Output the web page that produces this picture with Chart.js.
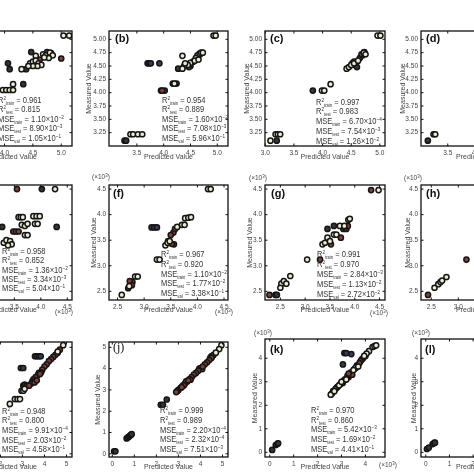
<!DOCTYPE html>
<html><head><meta charset="utf-8">
<script src="https://cdn.jsdelivr.net/npm/chart.js@4.4.1/dist/chart.umd.min.js"></script>
<style>
html,body{margin:0;padding:0;background:#fff;}
#root{position:relative;width:474px;height:474px;overflow:hidden;background:#fff;font-family:"Liberation Sans",Arial,sans-serif;}
canvas{position:absolute;}
.t{position:absolute;white-space:nowrap;}
.stat{font-size:9.2px;color:#333;line-height:10px;transform:scaleX(0.82);transform-origin:0 50%;}
.stat sub{font-size:0.55em;vertical-align:-0.3em;line-height:0;}
.stat sup{font-size:0.62em;vertical-align:0.5em;line-height:0;}
.lab{font-size:11px;font-weight:bold;color:#111;line-height:12px;}
.labs{font-family:"Liberation Serif",serif;font-weight:normal;font-size:12px;}
.mul{font-size:6.5px;color:#444;line-height:8px;}
.mul sup{font-size:0.7em;vertical-align:0.5em;line-height:0;}
</style></head><body><div id="root"></div>
<script>
// ---------- tick labels ----------
const row1YLabels = ["3.25","3.50","3.75","4.00","4.25","4.50","4.75","5.00"];
const aXLabels = ["3.5","4.0","4.5","5.0"];
const bXLabels = ["3.5","4.0","4.5","5.0"];
const cXLabels = ["3.0","3.5","4.0","4.5","5.0"];
const dXLabels = ["3.5","4.0","4.5","5.0"];
const row2Labels = ["2.5","3.0","3.5","4.0","4.5"];
const ijLabels = ["0","1","2","3","4","5"];
const klLabels = ["0","1","2","3","4"];

// ---------- point data [predicted, measured] ----------
const aLight = [[5.04,5.07],[5.14,5.07],[4.55,4.69],[4.68,4.72],[4.73,4.7],[4.8,4.75],[4.85,4.7],[4.78,4.65],[4.7,4.66],[4.45,4.55],[4.5,4.58],[4.55,4.6],[4.6,4.55],[4.65,4.52],[4.58,4.5],[4.5,4.5],[4.42,4.5],[4.3,4.44],[4.15,4.16],[3.97,4.05],[4.03,4.05],[4.09,4.05],[4.15,4.05]];
const aRed = [[5.0,4.64],[4.75,4.76],[4.82,4.74],[4.62,4.62],[4.48,4.52]];
const aDark = [[4.06,4.55],[4.09,4.44],[4.38,4.44],[4.33,4.16],[4.47,4.76]];

const bLight = [[4.93,5.07],[4.97,5.07],[4.35,4.69],[4.63,4.7],[4.67,4.73],[4.7,4.75],[4.73,4.75],[4.6,4.65],[4.55,4.58],[4.5,4.56],[4.45,4.52],[4.38,4.5],[4.35,4.45],[4.4,4.55],[4.58,4.6],[4.65,4.62],[4.2,4.17],[3.38,3.22],[3.43,3.22],[3.52,3.22],[3.6,3.22]];
const bRed = [[4.68,4.72],[4.5,4.5],[4.47,4.48],[3.97,4.04]];
const bDark = [[4.27,4.45],[4.24,4.17],[4.17,4.17],[3.95,4.04],[4.02,4.04],[3.27,3.1],[3.3,3.1]];
const bNavy = [[3.7,4.55],[3.73,4.55],[3.76,4.55],[3.92,4.55]];

const cLight = [[4.96,5.07],[5.01,5.07],[4.42,4.45],[4.46,4.48],[4.5,4.52],[4.55,4.55],[4.62,4.6],[4.72,4.75],[4.75,4.72],[3.99,4.04],[4.03,4.04],[4.14,4.16],[3.18,3.22],[3.22,3.22],[3.26,3.22],[3.09,3.1]];
const cRed = [[4.65,4.65],[4.7,4.7],[4.73,4.76],[4.68,4.72]];
const cDark = [[4.52,4.55],[4.57,4.52],[4.6,4.48],[4.55,4.58],[3.83,4.04],[3.2,3.1]];

const dLight = [[3.25,3.22],[3.28,3.22]];
const dDark = [[3.15,3.1]];

const eLight = [[4.27,4.5],[3.58,3.95],[3.62,3.95],[3.66,3.95],[3.86,3.97],[3.92,3.97],[3.98,3.97],[3.89,3.82],[3.94,3.82],[3.64,3.8],[3.7,3.78],[3.75,3.82],[3.7,3.6],[3.75,3.6],[3.3,3.45],[3.35,3.5],[3.42,3.48],[3.45,3.42],[3.38,3.4]];
const eRed = [[3.55,4.5],[3.48,3.67],[3.53,3.67],[3.58,3.67],[3.4,3.45]];
const eDark = [[4.02,4.5],[3.27,3.76],[4.3,3.76]];

const fLight = [[4.2,4.5],[4.25,4.5],[3.77,3.93],[3.83,3.94],[3.88,3.95],[3.71,3.8],[3.76,3.8],[3.62,3.76],[3.4,3.4],[3.44,3.45],[3.48,3.48],[3.24,3.12],[3.29,3.12],[2.83,2.79],[2.88,2.79],[2.72,2.6],[2.58,2.43]];
const fRed = [[3.55,3.65],[3.5,3.6],[3.58,3.72],[3.52,3.43],[3.45,3.48],[2.75,2.65],[2.78,2.68],[2.73,2.7],[2.77,2.62]];
const fDark = [[3.56,3.42],[2.7,2.56]];
const fNavy = [[3.14,3.75],[3.19,3.75],[3.24,3.75]];

const gLight = [[4.48,4.48],[3.87,3.9],[3.9,3.92],[3.7,3.78],[3.79,3.78],[3.58,3.61],[3.63,3.61],[3.45,3.55],[3.35,3.42],[3.4,3.45],[3.5,3.48],[3.04,3.12],[2.7,2.8],[2.52,2.65],[2.57,2.7],[2.62,2.65],[2.5,2.57]];
const gRed = [[4.33,4.48],[3.86,3.78],[3.72,3.55],[3.3,3.12],[3.52,3.42],[2.28,2.43]];
const gDark = [[3.45,3.72],[3.58,3.78],[3.77,3.72],[3.83,3.72],[2.4,2.43],[2.43,2.43]];

const hLight = [[2.56,2.57],[2.63,2.64],[2.67,2.68],[2.7,2.71],[2.78,2.78]];
const hRed = [[2.44,2.43],[3.15,3.12]];

const iLight = [[4.85,5.1],[4.6,4.8],[2.96,2.96],[3.04,2.96],[2.66,2.57],[2.78,2.57],[2.89,2.57],[2.43,2.34],[3.1,3.05]];
const iRed = [[4.7,4.89],[4.6,4.75],[4.5,4.65],[4.4,4.55],[4.3,4.45],[4.2,4.35],[4.1,4.2],[4.0,4.1],[3.9,3.95],[3.85,3.83],[3.75,3.8],[3.7,3.7],[3.6,3.6],[3.5,3.5],[3.45,3.4],[3.4,3.3],[3.55,3.35],[3.65,3.45],[3.8,3.75],[3.3,3.2]];
const iDark = [[3.04,3.2],[3.1,3.25],[3.19,3.2]];
const iNavy = [[3.57,4.58],[3.66,4.58],[3.75,4.58],[3.83,4.58],[2.93,4.03],[3.04,4.03]];

const jLight = [[4.95,5.1],[4.85,4.92],[4.7,4.75]];
const jRed = [[4.6,4.65],[4.5,4.5],[4.4,4.4],[4.3,4.3],[4.2,4.2],[4.1,4.1],[3.9,3.9],[3.8,3.8],[3.7,3.72],[3.6,3.6],[3.5,3.5],[3.4,3.4],[3.3,3.3],[3.2,3.2],[3.1,3.1],[3.0,3.0],[2.95,2.95],[2.9,2.9],[3.55,3.48],[3.35,3.4],[3.45,3.45],[3.25,3.22],[3.15,3.13]];
const jDark = [[2.2,2.3],[2.3,2.3],[2.47,2.55],[0.65,0.72],[0.72,0.78],[0.78,0.83],[0.83,0.88],[0.88,0.92],[0.08,0.12],[0.14,0.12]];
const jNavy = [[4.45,4.52],[4.5,4.58],[4.55,4.6],[3.95,4.0],[4.02,4.02],[4.08,3.98]];

const kLight = [[4.3,4.48],[4.38,4.52],[4.45,4.55],[4.15,4.3],[4.05,4.2],[3.95,4.1],[3.6,3.6],[3.7,3.65],[3.5,3.5],[2.55,2.45],[2.7,2.6],[2.9,2.85],[3.0,3.0],[3.2,3.1]];
const kRed = [[3.9,4.0],[3.85,3.95],[3.8,3.88],[3.75,3.8],[3.4,3.4],[3.35,3.3],[3.3,3.2],[3.25,3.25],[3.15,3.1],[3.1,3.05],[2.95,2.9],[2.8,2.75],[2.75,2.7],[2.65,2.6],[3.45,3.3],[3.3,3.35]];
const kDark = [[4.0,4.1],[3.65,3.7],[3.55,3.55],[3.05,2.95],[2.85,2.8],[2.6,2.5],[0.1,0.1],[0.25,0.31],[0.32,0.36],[0.35,0.38]];
const kNavy = [[3.12,4.22],[3.2,4.22],[3.41,4.18],[3.06,3.74]];

const lDark = [[0.05,0.14],[0.13,0.2],[0.29,0.35],[0.36,0.4],[0.39,0.41]];

// ---------- statistics text [R2train, R2test], [[MSE mantissa, exponent] x3] ----------
const aR2 = ["0.961","0.815"]; const aMSE = [["1.10","−2"],["8.90","−3"],["1.05","−1"]];
const bR2 = ["0.954","0.889"]; const bMSE = [["1.60","−2"],["7.08","−3"],["5.96","−1"]];
const cR2 = ["0.997","0.983"]; const cMSE = [["6.70","−4"],["7.54","−3"],["1.26","−2"]];
const eR2 = ["0.958","0.852"]; const eMSE = [["1.36","−2"],["3.34","−3"],["5.04","−1"]];
const fR2 = ["0.967","0.920"]; const fMSE = [["1.10","−2"],["1.77","−2"],["3.38","−1"]];
const gR2 = ["0.991","0.970"]; const gMSE = [["2.84","−3"],["1.13","−2"],["2.72","−2"]];
const iR2 = ["0.948","0.800"]; const iMSE = [["9.91","−4"],["2.03","−2"],["4.58","−1"]];
const jR2 = ["0.999","0.989"]; const jMSE = [["2.20","−4"],["2.32","−4"],["7.51","−3"]];
const kR2 = ["0.970","0.860"]; const kMSE = [["5.42","−3"],["1.69","−2"],["4.41","−1"]];

// ---------- drawing ----------
const FONT = '"Liberation Sans", Arial, sans-serif';
const FILL = {light:'#ecebd2', red:'#80403a', dark:'#3a3434', navy:'#353c58'};
const root = document.getElementById('root');

const boxPlugin = {
  id:'box',
  afterDraw(chart){
    const {ctx, chartArea:a, scales:{x,y}} = chart;
    ctx.save();
    ctx.strokeStyle = '#111';
    ctx.lineWidth = 1.3;
    ctx.strokeRect(a.left, a.top, a.right-a.left, a.bottom-a.top);
    ctx.lineWidth = 1;
    ctx.beginPath();
    x.ticks.forEach(t=>{const p=x.getPixelForValue(t.value);
      ctx.moveTo(p,a.bottom); ctx.lineTo(p,a.bottom-2.5);
      ctx.moveTo(p,a.top); ctx.lineTo(p,a.top+2.5);});
    y.ticks.forEach(t=>{const p=y.getPixelForValue(t.value);
      ctx.moveTo(a.left,p); ctx.lineTo(a.left+2.5,p);
      ctx.moveTo(a.right,p); ctx.lineTo(a.right-2.5,p);});
    ctx.stroke();
    ctx.restore();
  }
};

function addText(cls, html, left, cy, h){
  const d = document.createElement('div');
  d.className = 't ' + cls;
  d.innerHTML = html;
  d.style.left = left + 'px';
  d.style.top = (cy - h/2) + 'px';
  root.appendChild(d);
}

function makePanel(p){
  const left = Math.round(p.ylabX - 4.2);
  const top = p.T - 10;
  const right = p.R + 6;
  const bottom = Math.round(p.xlabY + 4.2);
  const W = right - left, H = bottom - top;
  const cv = document.createElement('canvas');
  cv.width = W; cv.height = H;
  cv.style.left = left + 'px'; cv.style.top = top + 'px';
  cv.style.width = W + 'px'; cv.style.height = H + 'px';
  root.appendChild(cv);
  const xv = p.xt.map(parseFloat), yv = p.yt.map(parseFloat);
  const datasets = Object.entries(p.data).map(([k, pts]) => ({
    data: pts.map(([x,y]) => ({x, y})),
    backgroundColor: FILL[k], borderColor: '#151515', borderWidth: 1.5,
    pointRadius: 2.6, pointHoverRadius: 2.6
  }));
  const tickFont = {size: 6.5, family: FONT};
  const titleFont = {size: 7, family: FONT};
  new Chart(cv, {
    type: 'scatter',
    data: {datasets},
    options: {
      responsive: false, animation: false, devicePixelRatio: 1,
      layout: {padding: {left: 0, top: 10, right: 6, bottom: 0}, autoPadding: false},
      plugins: {legend: {display: false}, tooltip: {enabled: false}},
      scales: {
        x: {type: 'linear', position: 'bottom', min: p.x[0], max: p.x[1],
            grid: {display: false, drawTicks: false}, border: {display: false},
            ticks: {autoSkip: false, maxRotation: 0, padding: 3, color: '#444', font: tickFont,
                    callback: (v, i) => p.xt[i]},
            title: {display: true, text: 'Predicted Value', color: '#444', font: titleFont, padding: 0},
            afterBuildTicks: s => { s.ticks = xv.map(v => ({value: v})); },
            afterFit: s => { s.height = bottom - p.B; s.paddingLeft = 0; s.paddingRight = 0; }},
        y: {type: 'linear', position: 'left', min: p.y[0], max: p.y[1],
            grid: {display: false, drawTicks: false}, border: {display: false},
            ticks: {autoSkip: false, padding: 3, color: '#444', font: tickFont,
                    callback: (v, i) => p.yt[i]},
            title: {display: true, text: 'Measured Value', color: '#444', font: titleFont, padding: 0},
            afterBuildTicks: s => { s.ticks = yv.map(v => ({value: v})); },
            afterFit: s => { s.width = p.L - left; s.paddingTop = 0; s.paddingBottom = 0; }}
      }
    },
    plugins: [boxPlugin]
  });
  if (p.r2) {
    const lines = [
      'R<sup>2</sup><sub>train</sub> = ' + p.r2[0],
      'R<sup>2</sup><sub>test</sub> = ' + p.r2[1],
      'MSE<sub>train</sub> = ' + p.mse[0][0] + '×10<sup>' + p.mse[0][1] + '</sup>',
      'MSE<sub>test</sub> = ' + p.mse[1][0] + '×10<sup>' + p.mse[1][1] + '</sup>',
      'MSE<sub>val</sub> = ' + p.mse[2][0] + '×10<sup>' + p.mse[2][1] + '</sup>'
    ];
    lines.forEach((s, i) => addText('stat', s, p.sx, p.sy + i * p.sdy, 10));
  }
  if (p.lab) addText('lab' + (p.serif ? ' labs' : ''), p.lab[0], p.lab[1], p.lab[2], 12);
  if (p.mulTop) addText('mul', '(×10<sup>3</sup>)', p.mulTop[0], p.mulTop[1], 8);
  if (p.mulBot) addText('mul', '(×10<sup>3</sup>)', p.mulBot[0], p.mulBot[1], 8);
}

const panels = [
  {L:-47,R:72,T:31,B:146,ylabX:-66.7,xlabY:156.7,x:[3.09,5.19],y:[3.0,5.156],xt:aXLabels,yt:row1YLabels,
   data:{light:aLight,red:aRed,dark:aDark},r2:aR2,mse:aMSE,sx:-2,sy:100,sdy:9.4,lab:['(a)',-41,38]},
  {L:109,R:228,T:31,B:146,ylabX:89.3,xlabY:156.7,x:[2.98,5.2],y:[3.0,5.156],xt:bXLabels,yt:row1YLabels,
   data:{light:bLight,red:bRed,dark:bDark,navy:bNavy},r2:bR2,mse:bMSE,sx:161.7,sy:100,sdy:9.4,lab:['(b)',115,38.3]},
  {L:265,R:385,T:31,B:146,ylabX:247,xlabY:156.7,x:[2.995,5.09],y:[3.0,5.156],xt:cXLabels,yt:row1YLabels,
   data:{light:cLight,red:cRed,dark:cDark},r2:cR2,mse:cMSE,sx:316,sy:101.7,sdy:9.75,lab:['(c)',270,38]},
  {L:421,R:540,T:31,B:146,ylabX:403,xlabY:156.7,x:[3.03,5.12],y:[3.0,5.156],xt:dXLabels,yt:row1YLabels,
   data:{light:dLight,dark:dDark},lab:['(d)',426,38]},

  {L:-47,R:72,T:185,B:300,ylabX:-61.7,xlabY:310,x:[2.34,4.59],y:[2.33,4.58],xt:row2Labels,yt:row2Labels,
   data:{light:eLight,red:eRed,dark:eDark},r2:eR2,mse:eMSE,sx:2,sy:250.7,sdy:9.4,mulBot:[55,312]},
  {L:109,R:228,T:185,B:300,ylabX:94.3,xlabY:310,x:[2.34,4.575],y:[2.33,4.58],xt:row2Labels,yt:row2Labels,
   data:{light:fLight,red:fRed,dark:fDark,navy:fNavy},r2:fR2,mse:fMSE,sx:161,sy:254.3,sdy:9.6,lab:['(f)',113,192.7],mulTop:[92,177],mulBot:[215,312]},
  {L:265,R:385,T:185,B:300,ylabX:250.3,xlabY:310,x:[2.19,4.61],y:[2.33,4.58],xt:row2Labels,yt:row2Labels,
   data:{light:gLight,red:gRed,dark:gDark},r2:gR2,mse:gMSE,sx:317,sy:254.3,sdy:9.9,lab:['(g)',271,193],mulTop:[249,178],mulBot:[370,313]},
  {L:421,R:540,T:185,B:300,ylabX:407.7,xlabY:310,x:[2.31,4.51],y:[2.33,4.58],xt:row2Labels,yt:row2Labels,
   data:{light:hLight,red:hRed},lab:['(h)',426,193],mulTop:[404,178]},

  {L:-47,R:72,T:342,B:457,ylabX:-57.7,xlabY:466.7,x:[-0.15,5.25],y:[-0.15,5.25],xt:ijLabels,yt:ijLabels,
   data:{light:iLight,red:iRed,dark:iDark,navy:iNavy},r2:iR2,mse:iMSE,sx:2,sy:410.7,sdy:9.65},
  {L:109,R:228,T:342,B:457,ylabX:98.3,xlabY:466.7,x:[-0.15,5.25],y:[-0.15,5.25],xt:ijLabels,yt:ijLabels,
   data:{light:jLight,red:jRed,dark:jDark,navy:jNavy},r2:jR2,mse:jMSE,sx:160,sy:410,sdy:9.75,lab:['(j)',113,347.3],serif:true},
  {L:265,R:385,T:339,B:457,ylabX:255.3,xlabY:466.7,x:[-0.2,4.82],y:[-0.2,4.82],xt:klLabels,yt:klLabels,
   data:{light:kLight,red:kRed,dark:kDark,navy:kNavy},r2:kR2,mse:kMSE,sx:311,sy:410,sdy:9.7,lab:['(k)',270,349],mulTop:[254,333],mulBot:[379,465]},
  {L:421,R:540,T:339,B:457,ylabX:413.7,xlabY:466.7,x:[-0.2,4.82],y:[-0.2,4.82],xt:klLabels,yt:klLabels,
   data:{dark:lDark},lab:['(l)',425,349],mulTop:[412,333]}
];

panels.forEach(makePanel);
</script></body></html>
